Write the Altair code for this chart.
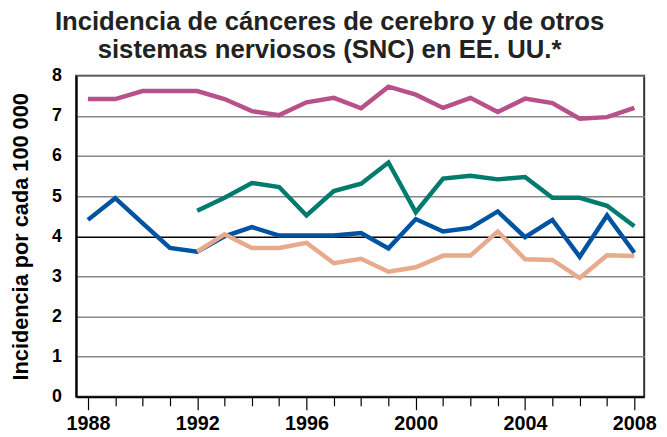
import altair as alt
import pandas as pd

years_full = list(range(1988, 2009))
years_late = list(range(1992, 2009))

magenta = [7.42, 7.42, 7.62, 7.62, 7.62, 7.42, 7.12, 7.02, 7.34, 7.45, 7.19,
           7.73, 7.53, 7.20, 7.45, 7.10, 7.43, 7.32, 6.93, 6.97, 7.20]
blue = [4.41, 4.95, 4.33, 3.71, 3.62, 4.00, 4.23, 4.02, 4.02, 4.02, 4.08,
        3.70, 4.43, 4.12, 4.21, 4.62, 3.98, 4.41, 3.49, 4.52, 3.59]
teal = [4.64, 4.96, 5.33, 5.23, 4.52, 5.13, 5.31, 5.84, 4.60, 5.44, 5.51,
        5.42, 5.48, 4.96, 4.96, 4.76, 4.25]
salmon = [3.62, 4.05, 3.71, 3.71, 3.84, 3.33, 3.44, 3.12, 3.23, 3.52, 3.52,
          4.12, 3.43, 3.41, 2.96, 3.53, 3.51]

series_names = ["A", "B", "C", "D"]
series_colors = ["#b8508a", "#0053a0", "#007b6e", "#e8aa8c"]

rows = []
for name, ys, vals in [("A", years_full, magenta), ("B", years_full, blue),
                       ("C", years_late, teal), ("D", years_late, salmon)]:
    for y, v in zip(ys, vals):
        rows.append({"year": y, "value": v, "serie": name})
df = pd.DataFrame(rows)

font = "Liberation Sans"

chart = alt.Chart(df).mark_line(strokeWidth=4.5, strokeJoin="miter").encode(
    x=alt.X("year:Q",
            scale=alt.Scale(domain=[1987.57, 2008.36], nice=False, zero=False),
            axis=alt.Axis(values=years_full, title=None, grid=False,
                          labelExpr="(datum.value - 1988) % 4 == 0 ? datum.value : ''",
                          tickSize=alt.condition("(datum.value - 1988) % 4 == 0", alt.value(13), alt.value(9)),
                          tickColor="black", tickWidth=1.2,
                          domainColor="black", domainWidth=2,
                          labelPadding=4, labelFontSize=20, labelFont=font,
                          labelFontWeight="bold", labelColor="black",
                          labelFlush=False)),
    y=alt.Y("value:Q",
            scale=alt.Scale(domain=[0, 8], nice=False),
            axis=alt.Axis(values=list(range(0, 9)), title="Incidencia por cada 100 000",
                          titleFont=font, titleFontSize=22, titleFontWeight="bold",
                          titleColor="black", titlePadding=19,
                          tickSize=0, labelPadding=15, labelFontSize=18,
                          labelFont=font, labelFontWeight="bold", labelColor="black",
                          domainColor="black", domainWidth=2,
                          gridColor=alt.condition("datum.value == 4", alt.value("black"), alt.value("#888888")),
                          gridWidth=1.5)),
    color=alt.Color("serie:N", scale=alt.Scale(domain=series_names, range=series_colors),
                    legend=None),
).properties(
    width=575,
    height=325,
    padding={"left": 69, "top": 66, "right": 15, "bottom": 38},
    autosize=alt.AutoSizeParams(type="none"),
    title=alt.TitleParams(
        text=["Incidencia de cánceres de cerebro y de otros",
              "sistemas nerviosos (SNC) en EE. UU.*"],
        font=font, fontSize=26, fontWeight="bold", color="#222222",
        anchor="middle", dx=-31, offset=4, lineHeight=28),
).configure_view(stroke="#333333", strokeWidth=2)

chart.save("out.html", embed_options={"renderer": "svg", "actions": False})
